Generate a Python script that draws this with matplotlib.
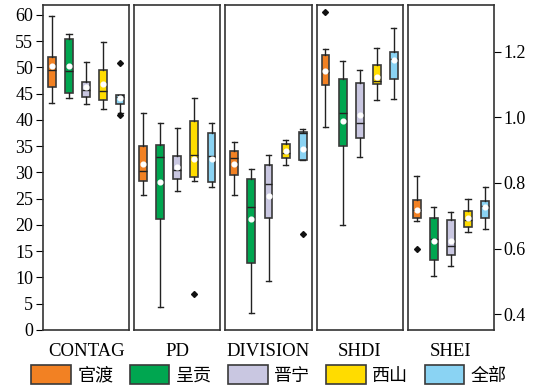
import matplotlib
matplotlib.use('Agg')
import matplotlib.pyplot as plt
from matplotlib.patches import Patch

plt.rcParams['font.family'] = ['Liberation Serif', 'Noto Sans CJK SC', 'DejaVu Sans']

groups = ['官渡', '呈贡', '晋宁', '西山', '全部']
colors = ['#F28123', '#00A650', '#C9C7E1', '#FFDC00', '#8AD3F3']
metrics = ['CONTAG', 'PD', 'DIVISION', 'SHDI', 'SHEI']

# (whislo, q1, med, q3, whishi, mean) per group
contag = [(43.2, 46.2, 49.5, 52.0, 59.9, 50.3),
          (44.2, 45.1, 49.3, 55.4, 56.4, 50.3),
          (43.0, 44.3, 45.8, 47.3, 51.0, 46.2),
          (42.0, 43.8, 45.5, 49.6, 54.8, 46.9),
          (41.3, 43.1, 44.4, 44.7, 44.7, 44.2)]
pd_ = [(25.8, 28.4, 30.2, 35.0, 41.3, 31.6),
       (4.3, 21.1, 33.0, 35.2, 39.4, 28.2),
       (26.5, 28.8, 30.5, 33.2, 38.4, 31.1),
       (28.3, 29.2, 33.3, 39.9, 44.2, 32.6),
       (27.3, 28.1, 33.1, 37.6, 39.4, 32.6)]
division = [(25.8, 29.5, 32.8, 34.0, 35.9, 31.6),
            (3.2, 12.7, 23.5, 28.7, 30.6, 21.1),
            (9.4, 21.3, 27.8, 31.5, 33.4, 25.6),
            (31.4, 32.7, 33.8, 35.4, 36.1, 34.0),
            (32.3, 32.3, 37.6, 37.7, 38.3, 34.4)]
shdi = [(0.969, 1.099, 1.139, 1.190, 1.208, 1.142),
        (0.673, 0.911, 1.013, 1.117, 1.170, 0.989),
        (0.880, 0.936, 0.982, 1.104, 1.144, 1.006),
        (1.054, 1.102, 1.110, 1.158, 1.211, 1.123),
        (1.057, 1.117, 1.177, 1.200, 1.272, 1.173)]
shei = [(0.684, 0.692, 0.718, 0.748, 0.821, 0.718),
        (0.517, 0.566, 0.629, 0.693, 0.727, 0.622),
        (0.546, 0.580, 0.607, 0.687, 0.710, 0.623),
        (0.651, 0.665, 0.686, 0.716, 0.752, 0.693),
        (0.659, 0.692, 0.729, 0.744, 0.789, 0.727)]

# outliers: metric -> {group index: [values]}
fliers = {'CONTAG': {4: [50.8, 41.0]},
          'PD': {3: [6.8]},
          'DIVISION': {4: [18.2]},
          'SHDI': {0: [1.320]},
          'SHEI': {0: [0.600]}}

data = {'CONTAG': contag, 'PD': pd_, 'DIVISION': division, 'SHDI': shdi, 'SHEI': shei}

fig, axes = plt.subplots(1, 5, figsize=(5.38, 3.87), dpi=100)
fig.subplots_adjust(left=43/538, right=494/538, bottom=57/387, top=382/387, wspace=0.058)

edge = '#3a3a3a'
for k, (ax, m) in enumerate(zip(axes, metrics)):
    stats = []
    for i, (lo, q1, med, q3, hi, mean) in enumerate(data[m]):
        stats.append(dict(whislo=lo, q1=q1, med=med, q3=q3, whishi=hi, mean=mean,
                          fliers=fliers[m].get(i, [])))
    bp = ax.bxp(stats, positions=range(5), widths=0.46, patch_artist=True,
                showmeans=True, capwidths=0.3,
                boxprops=dict(edgecolor=edge, linewidth=1.2),
                whiskerprops=dict(color='#222222', linewidth=1.0),
                capprops=dict(color='#222222', linewidth=1.0),
                medianprops=dict(color='#222222', linewidth=1.0),
                meanprops=dict(marker='o', markerfacecolor='white', markeredgecolor='white',
                               markersize=3.4),
                flierprops=dict(marker='D', markerfacecolor='#111111', markeredgecolor='#111111',
                                markersize=3))
    for patch, c in zip(bp['boxes'], colors):
        patch.set_facecolor(c)
    ax.set_xlim(-0.52, 4.52)
    if k < 3:
        ax.set_ylim(0, 61.9)
    else:
        ax.set_ylim(0.352, 1.342)
    ax.set_xticks([])
    for s in ax.spines.values():
        s.set_linewidth(1.2)
        s.set_color('#333333')
    ax.text(0.5, -0.065, m, transform=ax.transAxes, ha='center', va='center', fontsize=13.5)
    if k == 0:
        ax.set_yticks(range(0, 61, 5))
        ax.tick_params(axis='y', direction='out', length=5, labelsize=13, pad=2)
    elif k == 4:
        ax.yaxis.tick_right()
        ax.set_yticks([0.4, 0.6, 0.8, 1.0, 1.2])
        ax.set_yticklabels(['0.4', '0.6', '0.8', '1.0', '1.2'])
        ax.tick_params(axis='y', direction='out', length=5, labelsize=13, pad=2)
    else:
        ax.set_yticks([])

handles = [Patch(facecolor=c, edgecolor=edge, linewidth=1.2) for c in colors]
fig.legend(handles, groups, loc='center', bbox_to_anchor=(0.5, 0.031), ncol=5,
           frameon=False, handlelength=2.2, handleheight=1.2,
           handletextpad=0.35, columnspacing=0.9, prop={'family': ['Noto Sans CJK SC'], 'size': 13})

fig.savefig('out.png', dpi=100)
